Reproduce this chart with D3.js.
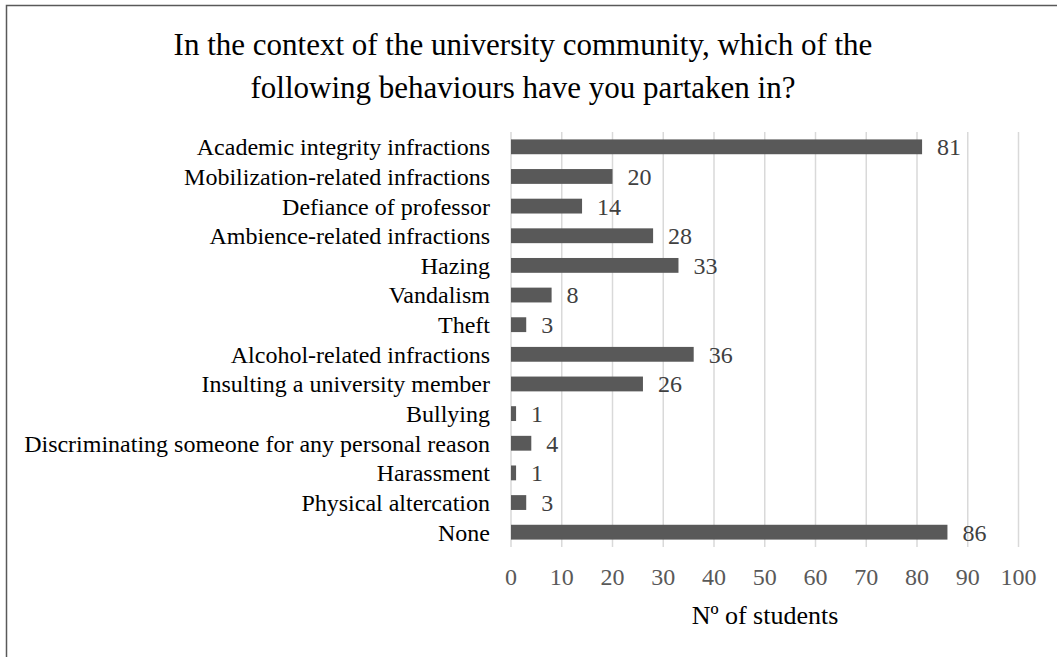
<!DOCTYPE html>
<html><head><meta charset="utf-8">
<script src="https://cdn.jsdelivr.net/npm/d3@7"></script>
<style>body{margin:0;background:#fff}svg{display:block}text{font-family:"Liberation Serif","Times New Roman",serif}</style>
</head><body>
<svg id="c" width="1057" height="657"></svg>
<script>
const categories = ["Academic integrity infractions","Mobilization-related infractions","Defiance of professor","Ambience-related infractions","Hazing","Vandalism","Theft","Alcohol-related infractions","Insulting a university member","Bullying","Discriminating someone for any personal reason","Harassment","Physical altercation","None"];
const values = [81,20,14,28,33,8,3,36,26,1,4,1,3,86];
const xTicks = [0,10,20,30,40,50,60,70,80,90,100];
const titleLines = ["In the context of the university community, which of the","following behaviours have you partaken in?"];
const xTitle = "Nº of students";

const svg = d3.select("#c");
svg.append("rect").attr("x",0).attr("y",0).attr("width",1057).attr("height",657).attr("fill","#fff");
svg.append("path").attr("d","M6.5,657 V5.5 H1057").attr("fill","none").attr("stroke","#595959").attr("stroke-width",1.5);

const x = d3.scaleLinear().domain([0,100]).range([511,1018.5]);
const y = d3.scaleBand().domain(categories).range([132,547]).paddingInner(0.5).paddingOuter(0.25);

svg.append("g").selectAll("line").data(xTicks).join("line")
  .attr("x1",d=>x(d)).attr("x2",d=>x(d)).attr("y1",132).attr("y2",547)
  .attr("stroke","#d9d9d9").attr("stroke-width",1.5);

svg.append("g").selectAll("rect").data(values).join("rect")
  .attr("x",x(0)).attr("y",(d,i)=>y(categories[i]))
  .attr("width",d=>x(d)-x(0)).attr("height",y.bandwidth()).attr("fill","#595959");

svg.append("g").selectAll("text").data(values).join("text")
  .attr("x",d=>x(d)+15).attr("y",(d,i)=>y(categories[i])+y.bandwidth()/2)
  .attr("dy","0.35em").attr("font-size",24).attr("fill","#404040").text(d=>d);

svg.append("g").selectAll("text").data(categories).join("text")
  .attr("x",490).attr("y",d=>y(d)+y.bandwidth()/2).attr("dy","0.35em")
  .attr("text-anchor","end").attr("font-size",24).attr("fill","#000").text(d=>d);

svg.append("g").selectAll("text").data(xTicks).join("text")
  .attr("x",d=>x(d)).attr("y",577).attr("dy","0.35em").attr("text-anchor","middle")
  .attr("font-size",24).attr("fill","#595959").text(d=>d);

svg.append("text").attr("x",765).attr("y",624).attr("text-anchor","middle")
  .attr("font-size",26).attr("fill","#000").text(xTitle);

svg.append("g").selectAll("text").data(titleLines).join("text")
  .attr("x",523).attr("y",(d,i)=>55+i*43).attr("text-anchor","middle")
  .attr("font-size",31).attr("fill","#000").text(d=>d);
</script>
</body></html>
